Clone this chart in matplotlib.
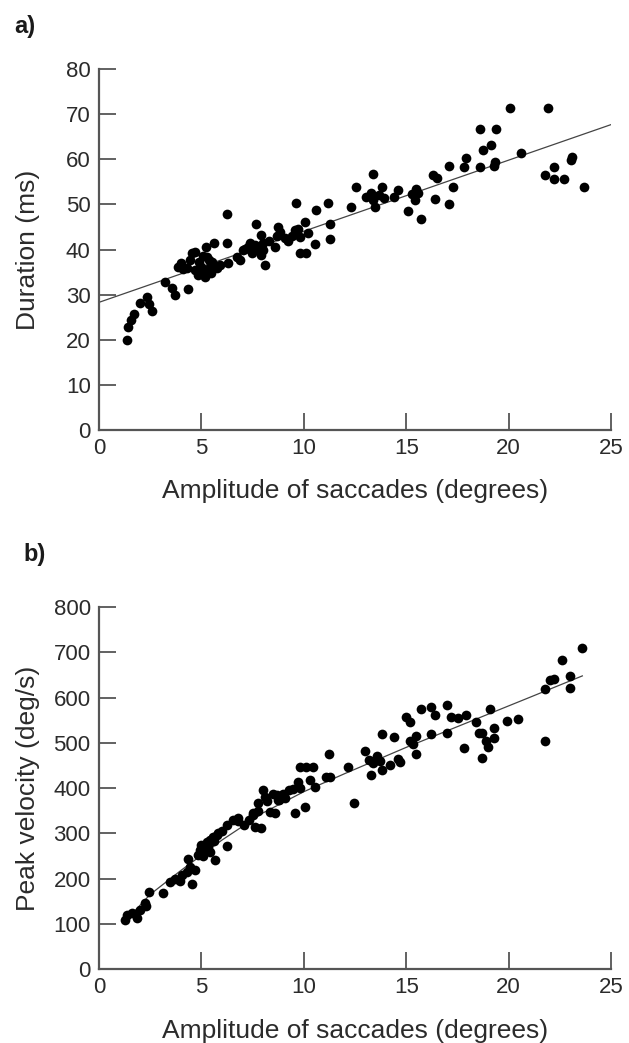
import matplotlib.pyplot as plt
import numpy as np

plt.rcParams['font.family'] = ['Liberation Sans', 'DejaVu Sans']

# panel a: amplitude (deg) vs duration (ms)
amp_a = [1.35, 1.43, 1.55, 1.71, 2.0, 2.36, 2.46, 2.57, 3.22, 3.55, 3.71, 4.36,
         3.87, 4.0, 4.11, 4.44, 4.52, 4.68, 4.68, 4.85, 4.99, 5.17, 5.25, 5.3,
         5.35, 5.4, 5.5, 5.2, 5.6, 5.74, 5.9, 6.23, 6.23, 6.31, 6.72,
         7.04, 6.88, 7.29, 7.45, 7.69, 7.61, 7.77, 7.9, 7.93, 8.0, 8.1, 8.0,
         8.59, 8.67, 8.75, 8.85, 9.07, 9.24, 9.56, 9.64, 9.72, 9.8, 9.8, 10.05,
         10.13, 10.2, 10.54, 10.59, 11.19, 11.27, 11.27, 12.28, 12.54,
         13.06, 13.4, 13.4, 13.5, 13.8, 13.3, 13.9, 14.4, 14.6, 15.1, 15.3,
         15.5, 15.6, 15.7, 16.3, 16.5, 16.4, 17.1, 17.1, 17.3, 17.8, 17.9,
         18.6, 18.6, 18.75, 19.15, 19.4, 19.3, 19.35, 20.05, 20.6, 21.9, 21.8,
         22.2, 22.2, 22.7, 23.06, 23.1, 23.7,
         4.3, 4.9, 5.05, 5.45, 5.1, 7.15, 7.35, 8.3, 9.4, 13.65, 15.45]
dur_a = [20.0, 22.9, 24.4, 25.8, 28.1, 29.4, 28.0, 26.3, 32.9, 31.4, 30.0, 31.2,
         36.2, 37.0, 35.6, 37.7, 39.2, 39.4, 35.5, 34.4, 36.1, 34.0, 38.4, 35.5,
         37.7, 36.2, 37.3, 40.5, 41.4, 35.9, 36.6, 47.8, 41.4, 37.0, 38.4,
         39.9, 37.7, 40.6, 39.2, 45.7, 41.0, 39.9, 38.7, 43.2, 41.4, 36.6, 40.0,
         40.6, 42.9, 45.1, 43.9, 42.5, 41.9, 44.3, 50.4, 44.5, 42.7, 39.2, 46.2,
         39.2, 43.6, 41.2, 48.8, 50.4, 45.7, 42.3, 49.5, 53.9,
         51.7, 56.7, 51.0, 49.5, 53.9, 52.5, 51.5, 51.7, 53.2, 48.6, 52.3,
         53.5, 52.5, 46.7, 56.5, 55.8, 51.3, 58.5, 50.1, 53.9, 58.3, 60.2,
         66.8, 58.3, 62.0, 63.1, 66.8, 58.6, 59.3, 71.3, 61.4, 71.3, 56.5,
         58.3, 55.6, 55.6, 59.8, 60.6, 53.9,
         36.0, 37.2, 35.0, 34.8, 38.6, 40.2, 41.5, 42.0, 43.0, 52.0, 51.0]
fit_a_x = [0.0, 25.2]
fit_a_y = [28.3, 68.0]

# panel b: amplitude (deg) vs peak velocity (deg/s)
amp_b = [1.27, 1.35, 1.6, 1.84, 2.0, 2.24, 2.3, 2.45, 3.14, 3.46, 3.71, 3.95,
         4.03, 4.28, 4.52, 4.44, 4.36, 4.68, 4.85, 4.93, 5.0, 5.17, 5.25, 5.41,
         5.58, 5.74, 5.82, 5.66, 5.08, 5.41, 6.23, 6.23,
         6.55, 6.8, 7.1, 7.5, 7.77, 7.6, 7.93, 8.0, 8.5, 8.6, 8.75, 9.0, 9.3,
         6.8, 7.53, 7.77, 8.1, 8.34, 8.67, 8.8, 8.97, 9.48, 9.56, 9.72, 9.8,
         10.05, 9.8, 10.13, 10.45, 10.3, 10.54, 11.1, 11.27, 11.24, 12.16, 12.45,
         12.98, 13.3, 13.2, 13.4, 13.55, 13.7, 13.8, 13.8, 14.2, 14.4, 14.6,
         14.7, 15.0, 15.2, 15.2, 15.35, 15.5, 15.5, 15.7, 16.2, 16.4, 16.2,
         17.0, 17.0, 17.2, 17.55, 17.9, 17.8, 18.4, 18.55, 18.7, 18.7, 18.9,
         19.0, 19.3, 19.1, 19.3, 19.9, 20.45, 21.8, 21.8, 22.0, 22.2, 22.6,
         22.98, 22.98, 23.6,
         5.3, 5.6, 6.0, 7.3, 8.2, 9.1]
vel_b = [108, 119, 123, 112, 130, 145, 140, 171, 168, 193, 200, 195,
         207, 215, 188, 226, 244, 219, 252, 263, 275, 266, 281, 285,
         292, 296, 300, 241, 250, 258, 318, 271,
         329, 327, 318, 340, 350, 314, 311, 395, 388, 344, 373, 388, 395,
         333, 344, 366, 380, 347, 384, 374, 383, 399, 344, 414, 400,
         358, 447, 447, 447, 417, 402, 424, 424, 476, 447, 366,
         483, 428, 462, 455, 470, 460, 439, 520, 450, 513, 465,
         458, 557, 546, 505, 497, 515, 476, 575, 579, 561, 520,
         583, 522, 558, 555, 561, 489, 545, 522, 522, 467, 505,
         490, 510, 575, 533, 548, 553, 505, 618, 640, 642, 684,
         647, 622, 709,
         270, 282, 305, 330, 372, 378]
fit_b_x = [1.4, 2.5, 4.0, 6.0, 8.0, 10.0, 12.0, 15.0, 18.0, 21.0, 23.6]
fit_b_y = [112, 165, 218, 285, 345, 392, 432, 490, 545, 600, 648]

spine_col = '#555555'
text_col = '#2b2b2b'

fig = plt.figure(figsize=(6.29, 10.43), dpi=100)
ax_a = fig.add_axes([0.1574, 0.5877, 0.814, 0.3461])
ax_b = fig.add_axes([0.1574, 0.0709, 0.814, 0.347])

panels = [
    (ax_a, amp_a, dur_a, fit_a_x, fit_a_y, 80, 10, 'Duration (ms)'),
    (ax_b, amp_b, vel_b, fit_b_x, fit_b_y, 800, 100, 'Peak velocity (deg/s)'),
]
for ax, xs, ys, fx, fy, ymax, ystep, ylab in panels:
    ax.plot(fx, fy, '-', color='#444444', lw=0.9, zorder=2)
    ax.plot(xs, ys, 'o', color='black', ms=7, mec='none', zorder=3)
    ax.set_xlim(0, 25)
    ax.set_ylim(0, ymax)
    ax.set_xticks(np.arange(0, 26, 5))
    ax.set_yticks(np.arange(0, ymax + 1, ystep))
    for s in ['top', 'right']:
        ax.spines[s].set_visible(False)
    for s in ['left', 'bottom']:
        ax.spines[s].set_color(spine_col)
        ax.spines[s].set_linewidth(1.6)
    ax.tick_params(direction='in', length=12, width=1.3, color=spine_col,
                   labelsize=16, labelcolor=text_col, pad=6)
    ax.set_xlabel('Amplitude of saccades (degrees)', fontsize=19, color=text_col)
    ax.set_ylabel(ylab, fontsize=19, color=text_col)
    ax.xaxis.set_label_coords(0.5, -0.137)
    ax.yaxis.set_label_coords(-0.115, 0.5)

fig.text(0.022, 0.968, 'a)', fontsize=17, fontweight='bold', color='#1a1a1a')
fig.text(0.038, 0.462, 'b)', fontsize=17, fontweight='bold', color='#1a1a1a')

fig.savefig('out.png', dpi=100)
